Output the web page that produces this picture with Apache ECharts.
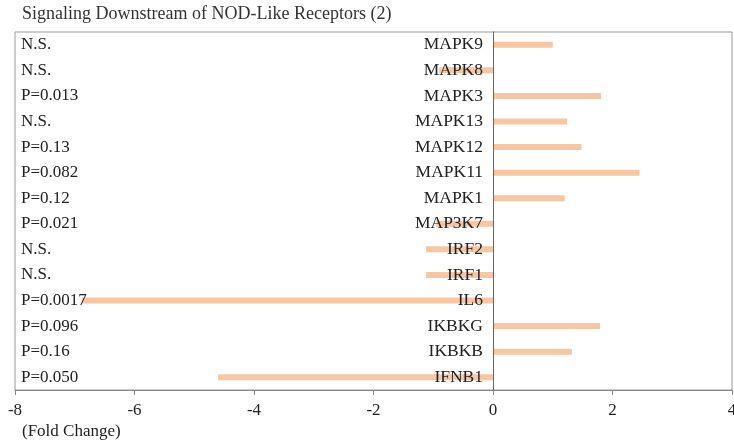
<!DOCTYPE html>
<html>
<head>
<meta charset="utf-8">
<script src="https://cdn.jsdelivr.net/npm/echarts@6/dist/echarts.min.js"></script>
<style>
  html, body { margin: 0; padding: 0; background: #fff; }
  #chart { width: 734px; height: 443px; }
</style>
</head>
<body>
<div id="chart"></div>
<script>
// genes, bottom to top
let genes = ['IFNB1', 'IKBKB', 'IKBKG', 'IL6', 'IRF1', 'IRF2', 'MAP3K7',
  'MAPK1', 'MAPK11', 'MAPK12', 'MAPK13', 'MAPK3', 'MAPK8', 'MAPK9']
let foldChange = [-4.6, 1.32, 1.79, -6.88, -1.12, -1.12, -0.95,
  1.2, 2.45, 1.48, 1.24, 1.81, -0.9, 1.0]
let pValues = ['P=0.050', 'P=0.16', 'P=0.096', 'P=0.0017', 'N.S.', 'N.S.', 'P=0.021',
  'P=0.12', 'P=0.082', 'P=0.13', 'N.S.', 'P=0.013', 'N.S.', 'N.S.']
let xTicks = [-8, 4, 2]  // min, max, interval

let font = '"Liberation Serif", "DejaVu Serif", serif'
let myChart = echarts.init(document.getElementById('chart'))

let option = {
  animation: false,
  title: {
    text: 'Signaling Downstream of NOD-Like Receptors (2)',
    left: 17,
    top: 0,
    textStyle: { fontFamily: font, fontSize: 18, fontWeight: 'normal', color: '#333' }
  },
  graphic: [{
    type: 'text',
    left: 22,
    top: 423,
    style: { text: '(Fold Change)', font: '17px ' + font, fill: '#222' }
  }],
  grid: {
    left: 15,
    right: 2,
    top: 32,
    bottom: 53,
    outerBoundsMode: 'none',
    containLabel: false,
    show: true,
    borderColor: '#999',
    borderWidth: 1
  },
  xAxis: {
    type: 'value',
    min: xTicks[0],
    max: xTicks[1],
    interval: xTicks[2],
    splitLine: { show: false },
    axisLine: { show: true, lineStyle: { color: '#888' } },
    axisTick: { show: true, length: 5, lineStyle: { color: '#888' } },
    axisLabel: { fontFamily: font, fontSize: 17, color: '#222', margin: 12 }
  },
  yAxis: {
    type: 'category',
    data: pValues,
    z: 5,
    // line sits on x = 0, labels stay at the left edge
    axisLine: { onZero: true, lineStyle: { color: '#666' } },
    axisTick: { show: false },
    axisLabel: { fontFamily: font, fontSize: 17, color: '#222', align: 'left', margin: -6 }
  },
  series: [{
    type: 'bar',
    data: foldChange,
    barWidth: 6,
    itemStyle: { color: '#F7C6A4' }
  }, {
    // zero-length bars that carry the gene names next to x = 0
    type: 'bar',
    data: genes.map(function() { return 0 }),
    barWidth: 6,
    barGap: '-100%',
    itemStyle: { color: 'transparent' },
    label: {
      show: true,
      position: 'left',
      distance: 10,
      fontFamily: font,
      fontSize: 17.5,
      color: '#222',
      formatter: function(p) { return genes[p.dataIndex] }
    }
  }]
}
myChart.setOption(option)
</script>
</body>
</html>
